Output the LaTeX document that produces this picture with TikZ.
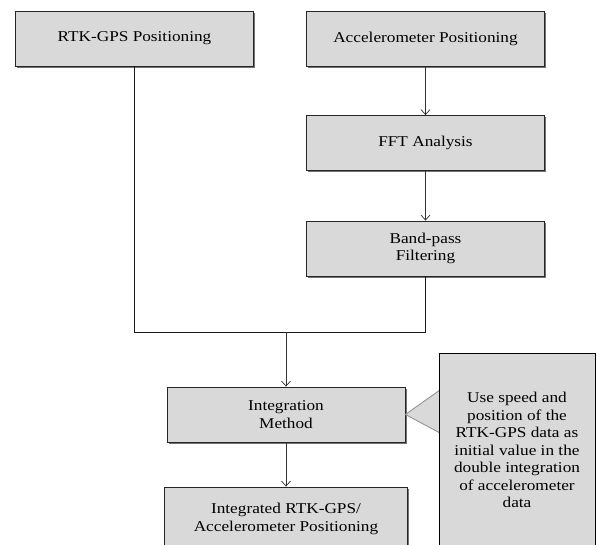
\documentclass[tikz,border=0pt]{standalone}
\usepackage{fontspec}
\setmainfont[FakeStretch=1.15]{Liberation Serif}
\usetikzlibrary{arrows.meta,shadows}
\definecolor{boxgray}{HTML}{D9D9D9}
\begin{document}
\begin{tikzpicture}[x=1pt, y=-1pt,
  box/.style={draw=black!85, fill=boxgray, line width=0.8pt, align=center,
    minimum width=238pt, minimum height=55pt, inner sep=2pt,
    drop shadow={shadow xshift=1.6pt, shadow yshift=-1.6pt, fill=black!55, opacity=1}},
  note/.style={draw=black, fill=boxgray, line width=1pt, align=center,
    minimum width=156pt, minimum height=192pt, inner sep=2pt},
  every node/.style={font=\fontsize{15}{17.5}\selectfont},
  arr/.style={-{Straight Barb[length=5pt,width=9pt]}, line width=0.7pt, draw=black!80}
]
  \clip (0,0) rectangle (598,545);
  \fill[white] (0,0) rectangle (598,545);

  \node[box] (rtk) at (134.5,38.5) {RTK-GPS Positioning};
  \node[box] (accel) at (425.5,38.5) {Accelerometer Positioning};
  \node[box] (fft) at (425.5,143) {FFT Analysis};
  \node[box] (band) at (425.5,248.5) {Band-pass\\Filtering};

  \coordinate (join) at (286,332);

  \node[box] (integ) at (286,414.5) {Integration\\Method};
  \node[box, minimum width=243pt, minimum height=64pt] (result) at (286,519)
    {Integrated RTK-GPS/\\Accelerometer Positioning};

  % callout pointer
  \fill[boxgray, draw=black!45, line width=0.8pt]
    (integ.east) -- (440,390) -- (440,433) -- cycle;
  \node[note] (remark) at (517,450) {Use speed and\\position of the\\RTK-GPS data as\\initial value in the\\double integration\\of accelerometer\\data};

  \draw[arr] (accel) -- (fft);
  \draw[arr] (fft) -- (band);
  \draw[line width=0.8pt, draw=black!90] (rtk.south) -- (rtk.south |- join) -- (band.south |- join) -- (band.south);
  \draw[arr] (join) -- (integ);
  \draw[arr] (integ) -- (result);
\end{tikzpicture}
\end{document}
